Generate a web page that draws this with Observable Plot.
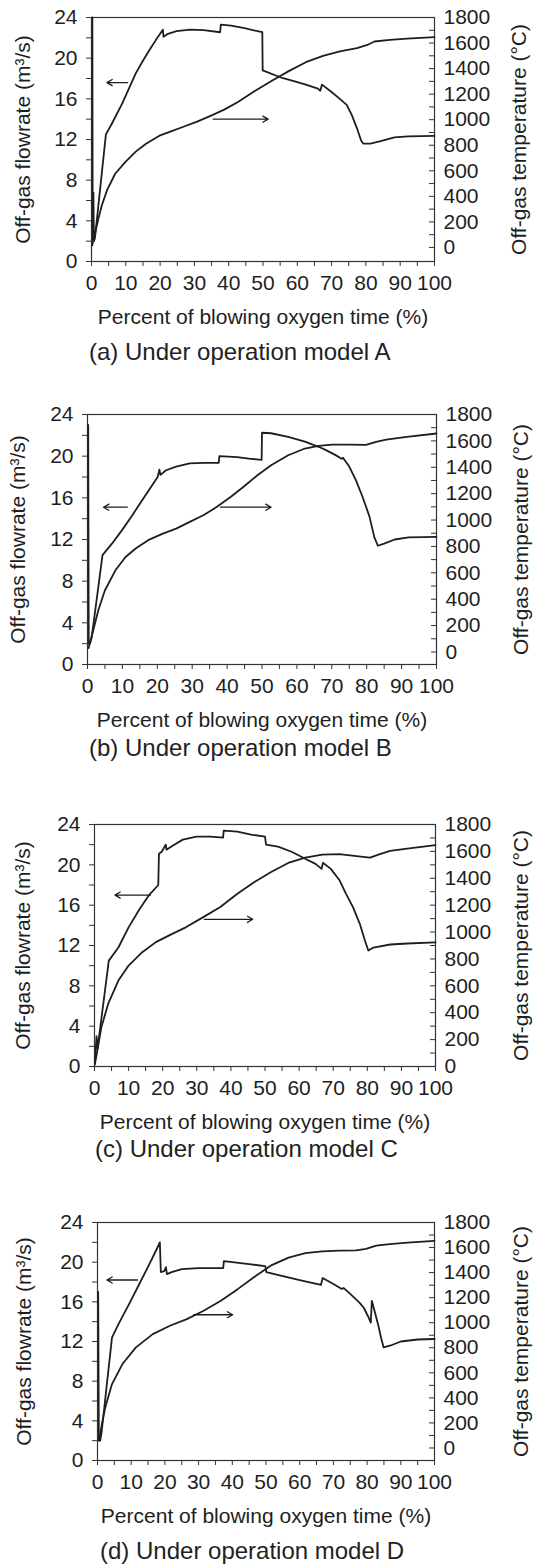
<!DOCTYPE html>
<html>
<head>
<meta charset="utf-8">
<script src="https://cdn.jsdelivr.net/npm/d3@7"></script>
<script src="https://cdn.jsdelivr.net/npm/@observablehq/plot@0.6"></script>
<style>
  body { margin: 0; background: #fff; }
  #root { position: relative; width: 533px; height: 1565px; overflow: hidden; font-family: "Liberation Sans", Arial, sans-serif; }
  .panel { position: absolute; left: 0; }
  .caption { position: absolute; white-space: nowrap; font-size: 24px; line-height: 28px; color: #222; }
</style>
</head>
<body>
<div id="root"></div>
<script>
// Axis ticks: percent of blowing time, flowrate (m3/s), temperature (°C)
const xTicks = d3.range(0, 101, 5);
const flowTicks = d3.range(0, 25, 2);
const tempTicks = d3.range(0, 1801, 100);

const xTitle = "Percent of blowing oxygen time (%)";
const flowTitle = "Off-gas flowrate (m³/s)";
const tempTitle = "Off-gas temperature (°C)";
const captions = [
  "(a) Under operation model A",
  "(b) Under operation model B",
  "(c) Under operation model C",
  "(d) Under operation model D"
];

// Lower end of the temperature axis in each panel (°C at the frame bottom)
const tempFloor = [-110, -95, 0, -100];

// [percent of blowing time, off-gas flowrate]
const flowA = [[0.25,24],[0.35,2.1],[0.55,6.8],[0.7,2.0],[1.0,2.3],[4.2,12.5],[6,13.6],[8.9,15.5],[10.9,17.0],[12.9,18.5],[14.9,19.7],[16.9,20.8],[18.8,21.8],[20.0,22.4],[20.8,22.8],[21.0,22.1],[22.3,22.4],[24.8,22.65],[28.8,22.8],[32.7,22.75],[37.5,22.55],[37.7,23.3],[40.7,23.2],[44.6,22.95],[49.8,22.55],[49.9,18.8],[55.6,18.05],[59.5,17.7],[62.5,17.4],[66.0,17.0],[66.7,16.8],[67.2,17.4],[69.9,16.7],[72.4,16.0],[74.4,15.4],[75.9,14.4],[77.4,13.1],[78.6,11.9],[79.2,11.6],[81.3,11.6],[84.3,11.85],[88.3,12.2],[92.3,12.3],[100,12.35]];
const flowB = [[0.2,23],[0.35,2.0],[0.7,2.0],[1.2,2.6],[4.3,10.5],[7.0,11.6],[9.9,12.9],[12.8,14.3],[15.7,15.8],[18.2,17.05],[20.1,18.0],[20.6,18.7],[20.9,18.2],[22.5,18.65],[25.4,19.0],[29.3,19.3],[33.2,19.35],[37.6,19.35],[37.8,20.0],[42.9,19.9],[46.8,19.75],[49.9,19.65],[50.0,22.25],[52.6,22.2],[57.5,21.85],[62.3,21.4],[66.2,20.9],[68.2,20.6],[71.1,20.1],[72.8,19.75],[73.2,19.85],[75.0,19.0],[76.9,17.7],[78.8,16.1],[80.8,14.2],[82.2,12.2],[83.2,11.4],[85,11.6],[88,12.0],[92,12.2],[100,12.25]];
const flowC = [[0.1,0.3],[0.6,3.0],[0.9,1.8],[4.2,10.5],[7.0,11.8],[10.0,13.8],[13.0,15.5],[16.0,17.0],[18.7,18.0],[18.9,21.1],[19.7,21.3],[20.9,22.0],[21.1,21.5],[22.9,21.9],[25.9,22.5],[29.9,22.8],[33.9,22.8],[37.7,22.7],[37.9,23.4],[41.9,23.3],[45.9,23.0],[50.0,22.8],[50.3,22.0],[53.8,21.8],[57.8,21.3],[61.8,20.6],[64.8,20.1],[66.6,19.6],[67.0,20.2],[69.3,19.6],[71.8,18.5],[73.8,17.1],[75.8,15.8],[77.8,14.15],[79.3,12.5],[80.3,11.5],[81.8,11.8],[86.7,12.1],[91.7,12.2],[100,12.3]];
const flowD = [[0.2,17.0],[0.4,2.0],[0.8,2.0],[1.2,2.8],[4.3,12.4],[6.3,13.8],[9.4,15.8],[12.4,17.8],[15.4,19.8],[17.4,21.2],[18.5,22.0],[18.8,19.0],[19.8,19.1],[20.3,19.5],[20.6,18.8],[22.0,19.0],[25.0,19.3],[30.0,19.4],[37.3,19.4],[37.5,20.1],[40,20.0],[45,19.8],[49.8,19.6],[50.1,19.0],[55,18.6],[60,18.2],[66.3,17.7],[66.8,18.4],[70,17.8],[72.5,17.3],[73,17.4],[75,16.8],[77.8,15.9],[79,15.4],[80.2,14.6],[81.1,13.9],[81.4,16.1],[82.2,15.1],[83.2,13.8],[84.2,12.3],[84.9,11.4],[87,11.6],[90,12.0],[95,12.2],[100,12.25]];

// [percent of blowing time, off-gas temperature]
const tempA = [[0.2,15],[1.0,107],[2.0,224],[3.0,329],[4.5,446],[6.9,577],[9.9,670],[12.9,750],[15.9,812],[19.8,875],[22.8,905],[26.8,945],[30.8,985],[34.7,1030],[38.7,1079],[42.7,1139],[47.6,1225],[52.6,1305],[57.5,1380],[62.5,1450],[67.5,1500],[72.4,1535],[77.4,1560],[80.4,1585],[82.5,1612],[87,1625],[92,1635],[100,1646]];
const tempB = [[0.3,30],[1.65,164],[3.1,316],[5.0,468],[8.0,619],[10.9,720],[13.8,784],[17.7,852],[21.6,897],[25.4,935],[29.3,986],[33.2,1036],[37.1,1100],[41.0,1175],[44.9,1256],[48.7,1340],[52.6,1416],[57.5,1491],[62.3,1542],[66.2,1562],[70.1,1572],[75.0,1572],[79.8,1570],[82.7,1593],[85.6,1610],[91.5,1630],[100,1656]];
const tempC = [[0.1,15],[1.0,142],[2.0,291],[4.0,465],[7.0,639],[10.0,751],[14.0,850],[18.0,925],[21.9,975],[26.9,1037],[31.9,1111],[36.9,1186],[41.9,1285],[46.9,1372],[51.8,1447],[56.8,1514],[61.8,1554],[66.8,1576],[71.8,1579],[76.8,1564],[80.8,1554],[83.7,1579],[86.7,1604],[91.7,1621],[100,1646]];
const tempD = [[0.5,58],[1.3,191],[2.3,324],[4.3,510],[7.4,670],[11.4,803],[16.4,909],[21.5,976],[26.5,1029],[31.5,1095],[36.6,1175],[41.6,1268],[46.6,1367],[51.7,1460],[56.7,1520],[61.7,1555],[66.7,1570],[71.7,1575],[76.7,1578],[79.7,1590],[82.7,1615],[86.7,1628],[92,1640],[100,1654]];

// Pointer arrows: [x start, x end, flowrate-axis level]
const arrowsA = [[10.5,4.5,17.6],[35.5,51.5,14.0]];
const arrowsB = [[11.4,4.6,15.1],[38.1,52.6,15.1]];
const arrowsC = [[16.4,6.0,17.0],[32.2,46.4,14.6]];
const arrowsD = [[11.9,2.8,18.2],[28.5,40.1,14.7]];

// Page placement of each panel's plotting frame, side titles and caption
const frames = [
  {top: 17,   bottom: 261,  left: 91, right: 434, yTitleL: 23, yTitleR: 519, capY: 352,  capX: 89},
  {top: 414,  bottom: 664,  left: 87, right: 436, yTitleL: 18, yTitleR: 521, capY: 748,  capX: 89},
  {top: 824,  bottom: 1066, left: 94, right: 435, yTitleL: 23, yTitleR: 521, capY: 1149, capX: 95},
  {top: 1222, bottom: 1460, left: 97, right: 434, yTitleL: 24, yTitleR: 521, capY: 1551, capX: 100}
];

const root = document.getElementById("root");
const ink = "#1e1e1e";
const font = "'Liberation Sans', Arial, Helvetica, sans-serif";

function drawPanel(i, flow, temp, arrows) {
  const f = frames[i];
  const mt = 14, mb = 80;
  const W = 533;
  const height = mt + (f.bottom - f.top) + mb;
  const frameW = f.right - f.left;
  // temperature values are placed on the flowrate axis through this mapping
  const toFlow = d3.scaleLinear([tempFloor[i], 1800], [0, 24]);
  const chart = Plot.plot({
    width: W,
    height,
    marginTop: mt,
    marginBottom: mb,
    marginLeft: f.left,
    marginRight: W - f.right,
    x: {domain: [0, 100]},
    y: {domain: [0, 24]},
    style: {fontFamily: font, fontSize: "21px", color: ink, background: "transparent", overflow: "visible"},
    marks: [
      Plot.frame({stroke: "#333", strokeWidth: 1.2}),
      Plot.axisX(xTicks, {tickSize: 5, tickPadding: 9, tickFormat: d => d % 10 ? "" : String(d), label: null, stroke: "#333"}),
      Plot.axisY(flowTicks, {anchor: "left", tickSize: 5, tickPadding: 9, tickFormat: d => d % 4 ? "" : String(d), label: null, stroke: "#333"}),
      Plot.axisY(tempTicks.filter(t => t % 200 === 0).map(toFlow), {anchor: "right", tickSize: 0, tickPadding: 9, tickFormat: v => String(Math.round(toFlow.invert(v))), label: null}),
      Plot.tickY(tempTicks.map(toFlow), {insetLeft: frameW - 5, stroke: "#333"}),
      Plot.line(flow, {x: d => d[0], y: d => d[1], stroke: ink, strokeWidth: 1.8, strokeLinejoin: "round"}),
      Plot.line(temp, {x: d => d[0], y: d => toFlow(d[1]), stroke: ink, strokeWidth: 1.8, strokeLinejoin: "round"}),
      Plot.arrow(arrows, {x1: d => d[0], x2: d => d[1], y1: d => d[2], y2: d => d[2], stroke: ink, strokeWidth: 1.3, headLength: 7, bend: 0}),
      Plot.text([flowTitle], {frameAnchor: "left", textAnchor: "middle", lineAnchor: "middle", rotate: -90, dx: -(f.left - f.yTitleL), fontSize: 21, fill: ink}),
      Plot.text([tempTitle], {frameAnchor: "right", textAnchor: "middle", lineAnchor: "middle", rotate: -90, dx: f.yTitleR - f.right, fontSize: 21, fill: ink}),
      Plot.text([xTitle], {frameAnchor: "bottom", textAnchor: "middle", lineAnchor: "middle", dy: 56, fontSize: 21, fill: ink})
    ]
  });
  const box = document.createElement("div");
  box.className = "panel";
  box.style.top = (f.top - mt) + "px";
  box.appendChild(chart);
  root.appendChild(box);

  const cap = document.createElement("div");
  cap.className = "caption";
  cap.textContent = captions[i];
  cap.style.top = (f.capY - 14) + "px";
  cap.style.left = f.capX + "px";
  root.appendChild(cap);
}

drawPanel(0, flowA, tempA, arrowsA);
drawPanel(1, flowB, tempB, arrowsB);
drawPanel(2, flowC, tempC, arrowsC);
drawPanel(3, flowD, tempD, arrowsD);
</script>
</body>
</html>
